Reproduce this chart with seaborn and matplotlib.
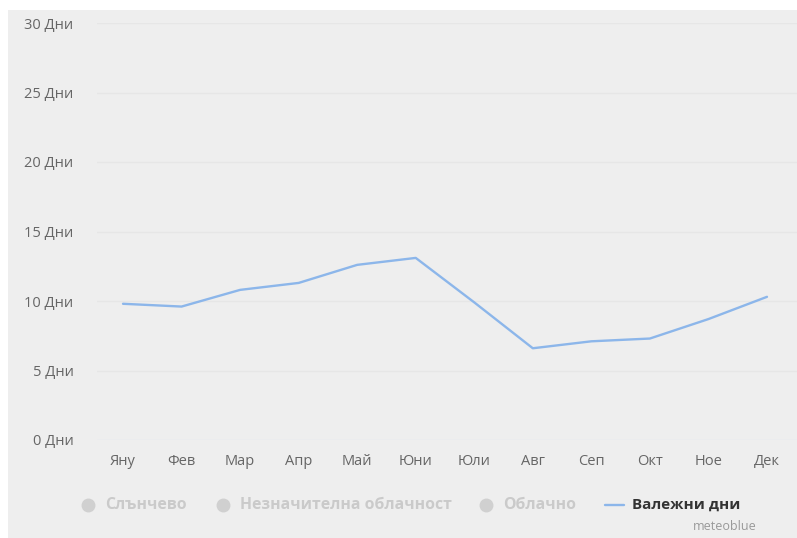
import matplotlib
matplotlib.use("Agg")
import matplotlib.pyplot as plt
import seaborn as sns
import pandas as pd
from matplotlib.lines import Line2D
from matplotlib.patches import Rectangle

months = ["Яну", "Фев", "Мар", "Апр", "Май", "Юни", "Юли", "Авг", "Сеп", "Окт", "Ное", "Дек"]
precip_days = [9.8, 9.6, 10.8, 11.3, 12.6, 13.1, 9.9, 6.6, 7.1, 7.3, 8.7, 10.3]
y_ticks = [0, 5, 10, 15, 20, 25, 30]
y_labels = [f"{v} Дни" for v in y_ticks]
legend_inactive = ["Слънчево", "Незначителна облачност", "Облачно"]
legend_active = "Валежни дни"
credit = "meteoblue"

sns.set_theme(style="white")
plt.rcParams["font.family"] = ["Open Sans", "DejaVu Sans"]

W, H = 797, 538
fig = plt.figure(figsize=(W / 100, H / 100), dpi=100)
fig.patch.set_facecolor("white")
bg = Rectangle((8 / W, 0), 1 - 8 / W, 1 - 10 / H, transform=fig.transFigure,
               facecolor="#eeeeee", edgecolor="none", zorder=-10)
fig.patches.append(bg)

left, right, bottom, top = 97, 797, 440, 23
ax = fig.add_axes([left / W, 1 - bottom / H, (right - left) / W, (bottom - top) / H])
ax.set_zorder(5)
ax.set_facecolor("none")

df = pd.DataFrame({"month": months, "days": precip_days, "x": range(len(months))})
sns.lineplot(data=df, x="x", y="days", ax=ax, color="#8cb6ea", linewidth=1.7, zorder=3)

ax.set_xlim(-26 / 58.5, 11 + 30 / 58.5)
ax.set_ylim(0, 30)
ax.set_xticks(range(len(months)))
ax.set_xticklabels(months)
ax.set_yticks(y_ticks)
ax.set_yticklabels(y_labels)
for v in y_ticks:
    ax.axhline(v, color="#e2e6ee" if v == 0 else "#e6e6e6", linewidth=1.0, zorder=1)
ax.set_xlabel("")
ax.set_ylabel("")
for s in ax.spines.values():
    s.set_visible(False)
ax.tick_params(axis="both", length=0, labelsize=10.5, labelcolor="#666666")
ax.tick_params(axis="y", pad=17)
ax.tick_params(axis="x", pad=10)
ax.grid(False)

# legend
ly = 1 - 505 / H
inactive_x = [88, 223, 486]
for lx, lab in zip(inactive_x, legend_inactive):
    fig.add_artist(Line2D([lx / W], [ly], marker="o", markersize=10, color="#d0d0d0",
                          markeredgecolor="none", linestyle="none", transform=fig.transFigure))
    fig.text((lx + 17) / W, ly, lab, color="#cacaca", fontsize=11.3, fontweight="bold",
             va="center", ha="left")
fig.add_artist(Line2D([605 / W, 624 / W], [ly, ly], color="#8cb6ea", linewidth=1.7,
                      transform=fig.transFigure))
fig.text(632 / W, ly, legend_active, color="#333333", fontsize=11, fontweight="bold",
         va="center", ha="left")
fig.text(757 / W, 1 - 526 / H, credit, color="#999999", fontsize=9, va="center", ha="right")

fig.savefig("out.png", dpi=100, facecolor=fig.get_facecolor())
